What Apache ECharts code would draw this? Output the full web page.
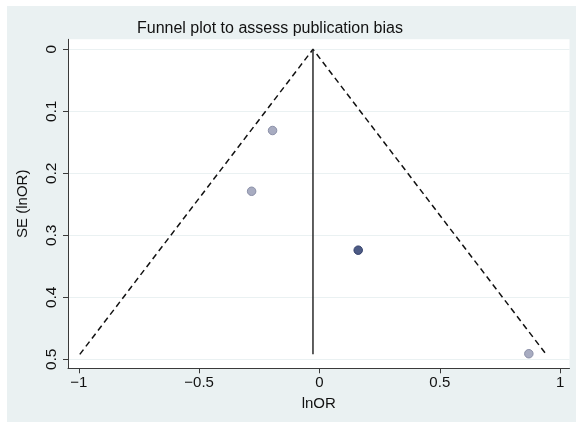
<!DOCTYPE html>
<html>
<head>
<meta charset="utf-8">
<script src="https://cdn.jsdelivr.net/npm/echarts@6/dist/echarts.min.js"></script>
<style>
html, body { margin: 0; padding: 0; background: #ffffff; }
#chart { position: absolute; left: 7px; top: 6px; width: 569px; height: 416px; }
</style>
</head>
<body>
<div id="chart"></div>
<script>
// ---- data ----
const titleText = 'Funnel plot to assess publication bias';
const xTicks = [-1, -0.5, 0, 0.5, 1];
const yTicks = [0, 0.1, 0.2, 0.3, 0.4, 0.5];
// study estimates (lnOR, SE)
const studyLnOR = [-0.195, -0.282, 0.870];
const studySE = [0.131, 0.229, 0.491];
// darker (overlapping) study marker
const overlapLnOR = [0.161];
const overlapSE = [0.324];
// pooled estimate line and pseudo 95% limits
const pooledLnOR = [-0.027, -0.027];
const pooledSE = [0, 0.492];
const funnelLnOR = [-0.996, -0.027, 0.942];
const funnelSE = [0.492, 0, 0.492];

const pairs = (xs, ys) => xs.map((x, i) => [x, ys[i]]);
const fmt = v => String(v).replace('-', '\u2212');
const font = '"Liberation Sans", Arial, Helvetica, sans-serif';

const chart = echarts.init(document.getElementById('chart'), null, { renderer: 'canvas' });
chart.setOption({
  backgroundColor: '#eaf1f2',
  animation: false,
  title: {
    text: titleText,
    left: 130,
    top: 15,
    padding: 0,
    textStyle: { fontFamily: font, fontSize: 16, fontWeight: 'normal', color: '#111111' }
  },
  grid: {
    left: 56, right: 6.5, top: 33.3, bottom: 53.7,
    show: true, backgroundColor: '#ffffff', borderWidth: 0, containLabel: false
  },
  xAxis: {
    type: 'value',
    min: -1.045, max: 1.039,
    name: 'lnOR', nameLocation: 'middle', nameGap: 28,
    nameTextStyle: { fontFamily: font, fontSize: 15, color: '#111111' },
    axisLine: { show: true, onZero: false, lineStyle: { color: '#3a3a3a', width: 1 } },
    axisTick: { show: true, length: 5, customValues: xTicks, lineStyle: { color: '#3a3a3a' } },
    axisLabel: { customValues: xTicks, formatter: fmt, margin: 7, fontFamily: font, fontSize: 15, color: '#111111' },
    splitLine: { show: false }
  },
  yAxis: {
    type: 'value',
    inverse: true,
    min: -0.0161, max: 0.5145,
    name: 'SE (lnOR)', nameLocation: 'middle', nameGap: 38, nameRotate: 90,
    nameTextStyle: { fontFamily: font, fontSize: 15, color: '#111111' },
    axisLine: { show: true, onZero: false, lineStyle: { color: '#3a3a3a', width: 1 } },
    axisTick: { show: true, length: 5, customValues: yTicks, lineStyle: { color: '#3a3a3a' } },
    axisLabel: { customValues: yTicks, rotate: 90, margin: 8, fontFamily: font, fontSize: 15.5, color: '#111111' },
    splitLine: { show: true, lineStyle: { color: '#eaf1f2', width: 1 } }
  },
  series: [
    {
      type: 'line', data: pairs(funnelLnOR, funnelSE), symbol: 'none',
      lineStyle: { color: '#111111', width: 1.5, type: [6, 4] }, z: 2
    },
    {
      type: 'line', data: pairs(pooledLnOR, pooledSE), symbol: 'none',
      lineStyle: { color: '#2a2a2a', width: 1.5, type: 'solid' }, z: 2
    },
    {
      type: 'scatter', data: pairs(studyLnOR, studySE), symbol: 'circle', symbolSize: 8.5,
      itemStyle: { color: '#a8acc1', borderColor: '#8b90a8', borderWidth: 1, opacity: 1 }, z: 3
    },
    {
      type: 'scatter', data: pairs(overlapLnOR, overlapSE), symbol: 'circle', symbolSize: 8.5,
      itemStyle: { color: '#4d5b85', borderColor: '#33406a', borderWidth: 1, opacity: 1 }, z: 3
    }
  ]
});
</script>
</body>
</html>
